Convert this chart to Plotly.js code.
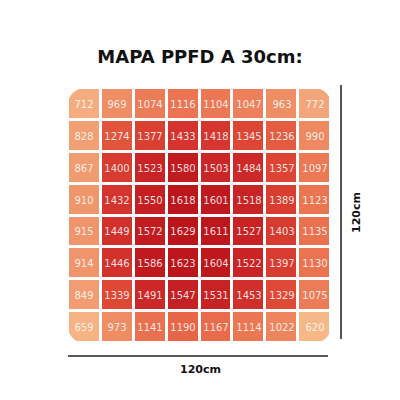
<!DOCTYPE html>
<html>
<head>
<meta charset="utf-8">
<script src="https://cdn.plot.ly/plotly-3.0.1.min.js"></script>
<style>html,body{margin:0;padding:0;background:#fff;}#chart{width:400px;height:400px;}</style>
</head>
<body>
<div id="chart"></div>
<script>
const columns = [0, 1, 2, 3, 4, 5, 6, 7];
const rows = [0, 1, 2, 3, 4, 5, 6, 7];
const row0 = [712, 969, 1074, 1116, 1104, 1047, 963, 772];
const row1 = [828, 1274, 1377, 1433, 1418, 1345, 1236, 990];
const row2 = [867, 1400, 1523, 1580, 1503, 1484, 1357, 1097];
const row3 = [910, 1432, 1550, 1618, 1601, 1518, 1389, 1123];
const row4 = [915, 1449, 1572, 1629, 1611, 1527, 1403, 1135];
const row5 = [914, 1446, 1586, 1623, 1604, 1522, 1397, 1130];
const row6 = [849, 1339, 1491, 1547, 1531, 1453, 1329, 1075];
const row7 = [659, 973, 1141, 1190, 1167, 1114, 1022, 620];
const ppfd = [row0, row1, row2, row3, row4, row5, row6, row7];
const titleText = 'MAPA PPFD A 30cm:';
const widthLabel = '120cm';
const heightLabel = '120cm';

const L = 68, R = 331, T = 88, B = 343;
const W = 400, H = 400;
const px = x => (x - L) / (R - L);
const py = y => (B - y) / (B - T);

// rounded outer corners (white masks)
function corner(cx, cy, dx, dy, r, e) {
  const k = 0.5523;
  const p = (x, y) => x.toFixed(4) + ',' + y.toFixed(4);
  return 'M' + p(cx - dx * e, cy - dy * e) +
    ' L' + p(cx + dx * r, cy - dy * e) +
    ' L' + p(cx + dx * r, cy) +
    ' C' + p(cx + dx * r * (1 - k), cy) + ' ' + p(cx, cy + dy * r * (1 - k)) + ' ' + p(cx, cy + dy * r) +
    ' L' + p(cx - dx * e, cy + dy * r) + ' Z';
}
const rr = 0.52, ee = 0.1;
const xmin = -0.5, xmax = columns.length - 0.5, ymin = -0.5, ymax = rows.length - 0.5;
const cornerShapes = [
  [xmin, ymin, 1, 1], [xmax, ymin, -1, 1], [xmin, ymax, 1, -1], [xmax, ymax, -1, -1]
].map(c => ({
  type: 'path', xref: 'x', yref: 'y', path: corner(c[0], c[1], c[2], c[3], rr, ee),
  fillcolor: '#ffffff', line: {width: 0}, layer: 'above'
}));

const trace = {
  type: 'heatmap',
  x: columns, y: rows, z: ppfd,
  xgap: 3, ygap: 3,
  zmin: 620, zmax: 1629,
  colorscale: [
    [0, '#F7B888'], [0.3, '#F0946A'], [0.5, '#EB7451'], [0.72, '#DE4634'],
    [0.86, '#CD2828'], [1, '#BB141B']
  ],
  showscale: false,
  texttemplate: '%{z}',
  textfont: {family: 'DejaVu Sans', size: 10, color: 'rgba(255,255,255,0.85)'},
  hoverinfo: 'skip'
};

const layout = {
  width: W, height: H,
  margin: {l: L, r: W - R, t: T, b: H - B, pad: 0},
  paper_bgcolor: '#ffffff', plot_bgcolor: '#ffffff',
  showlegend: false,
  title: {text: '<b>' + titleText + '</b>', x: 0.5, xanchor: 'center', y: 1 - 57 / H, yanchor: 'middle',
    font: {family: 'DejaVu Sans', size: 18, color: '#111111'}},
  xaxis: {range: [xmin, xmax], visible: false, fixedrange: true},
  yaxis: {range: [ymax, ymin], visible: false, fixedrange: true},
  shapes: cornerShapes.concat([
    {type: 'line', xref: 'paper', yref: 'paper', x0: px(68), x1: px(328), y0: py(356), y1: py(356),
      line: {color: '#222222', width: 1.5}},
    {type: 'line', xref: 'paper', yref: 'paper', x0: px(341), x1: px(341), y0: py(85), y1: py(339),
      line: {color: '#555555', width: 2}}
  ]),
  annotations: [
    {xref: 'paper', yref: 'paper', x: px(200), y: py(369), text: '<b>' + widthLabel + '</b>', showarrow: false,
      xanchor: 'center', yanchor: 'middle', font: {family: 'DejaVu Sans', size: 11, color: '#111111'}},
    {xref: 'paper', yref: 'paper', x: px(356), y: py(213), text: '<b>' + heightLabel + '</b>', showarrow: false,
      textangle: -90, xanchor: 'center', yanchor: 'middle', font: {family: 'DejaVu Sans', size: 11, color: '#111111'}}
  ]
};

Plotly.newPlot('chart', [trace], layout, {displayModeBar: false, staticPlot: true});
</script>
</body>
</html>
